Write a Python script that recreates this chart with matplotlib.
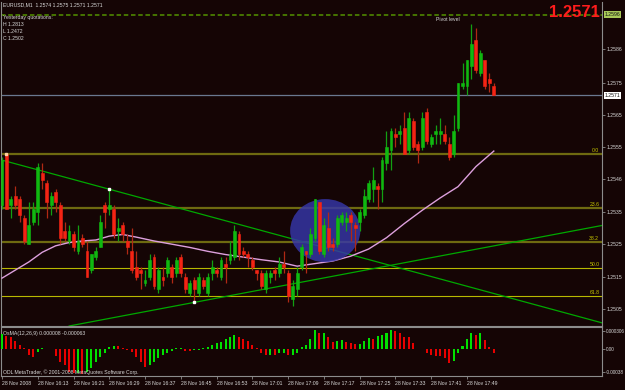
import matplotlib
matplotlib.use("Agg")
import matplotlib.pyplot as plt
from matplotlib.patches import Ellipse
import numpy as np

plt.rcParams['font.family'] = ['Liberation Sans', 'DejaVu Sans']

# EURUSD M1, bars from 28 Nov 16:05 to 17:55
opens = [1.2537, 1.2553, 1.2537, 1.2540, 1.2539, 1.2533, 1.2525, 1.2532, 1.2535, 1.2547,
         1.2544, 1.2537, 1.2541, 1.2537, 1.2529, 1.2526, 1.2528, 1.2523, 1.2527, 1.2523,
         1.2517, 1.2521, 1.2524, 1.2537, 1.2536, 1.2536, 1.2529, 1.2531, 1.2526, 1.2523,
         1.2518, 1.2517, 1.2513, 1.2515, 1.2521, 1.2511, 1.2515, 1.2516, 1.2518, 1.2516,
         1.2521, 1.2515, 1.2510, 1.2514, 1.2510, 1.2514, 1.2510, 1.2516, 1.2517, 1.2515,
         1.2519, 1.2520, 1.2521, 1.2528, 1.2523, 1.2522, 1.2520, 1.2517, 1.2516, 1.2511,
         1.2515, 1.2517, 1.2516, 1.2519, 1.2516, 1.2508, 1.2511, 1.2518, 1.2523, 1.2522,
         1.2527, 1.2538, 1.2522, 1.2530, 1.2525, 1.2525, 1.2532, 1.2532, 1.2534, 1.2531,
         1.2532, 1.2534, 1.2539, 1.2542, 1.2543, 1.2542, 1.2550, 1.2554, 1.2559, 1.2559,
         1.2561, 1.2554, 1.2563, 1.2556, 1.2555, 1.2566, 1.2556, 1.2559, 1.2559, 1.2559,
         1.2556, 1.2553, 1.2561, 1.2574, 1.2574, 1.2580, 1.2588, 1.2578, 1.2582, 1.2576,
         1.2574]
highs = [1.2552, 1.2553, 1.2540, 1.2543, 1.2540, 1.2534, 1.2538, 1.2538, 1.2550, 1.2550,
         1.2545, 1.2541, 1.2542, 1.2538, 1.2532, 1.2531, 1.2529, 1.2531, 1.2528, 1.2526,
         1.2522, 1.2524, 1.2534, 1.2538, 1.2542, 1.2537, 1.2533, 1.2532, 1.2528, 1.2530,
         1.2523, 1.2518, 1.2517, 1.2522, 1.2522, 1.2518, 1.2518, 1.2521, 1.2519, 1.2521,
         1.2522, 1.2516, 1.2514, 1.2515, 1.2516, 1.2515, 1.2516, 1.2520, 1.2518, 1.2521,
         1.2521, 1.2526, 1.2531, 1.2529, 1.2524, 1.2523, 1.2521, 1.2517, 1.2517, 1.2517,
         1.2517, 1.2518, 1.2521, 1.2523, 1.2517, 1.2514, 1.2518, 1.2525, 1.2523, 1.2530,
         1.2539, 1.2538, 1.2533, 1.2535, 1.2527, 1.2534, 1.2535, 1.2535, 1.2535, 1.2532,
         1.2536, 1.2542, 1.2545, 1.2549, 1.2544, 1.2552, 1.2560, 1.2561, 1.2561, 1.2562,
         1.2566, 1.2566, 1.2564, 1.2557, 1.2566, 1.2567, 1.2559, 1.2562, 1.2564, 1.2562,
         1.2558, 1.2565, 1.2575, 1.2581, 1.2582, 1.2593, 1.2592, 1.2585, 1.2582, 1.2578,
         1.2575]
lows = [1.2536, 1.2536, 1.2533, 1.2536, 1.2532, 1.2525, 1.2525, 1.2531, 1.2531, 1.2542,
        1.2533, 1.2534, 1.2535, 1.2525, 1.2526, 1.2525, 1.2523, 1.2522, 1.2524, 1.2515,
        1.2516, 1.2520, 1.2524, 1.2530, 1.2534, 1.2527, 1.2526, 1.2526, 1.2522, 1.2516,
        1.2514, 1.2511, 1.2512, 1.2514, 1.2511, 1.2510, 1.2512, 1.2515, 1.2513, 1.2515,
        1.2515, 1.2510, 1.2509, 1.2507, 1.2509, 1.2511, 1.2509, 1.2514, 1.2515, 1.2514,
        1.2513, 1.2519, 1.2520, 1.2520, 1.2521, 1.2518, 1.2517, 1.2514, 1.2511, 1.2510,
        1.2513, 1.2514, 1.2515, 1.2516, 1.2507, 1.2506, 1.2509, 1.2517, 1.2516, 1.2521,
        1.2526, 1.2522, 1.2521, 1.2523, 1.2523, 1.2524, 1.2531, 1.2529, 1.2526, 1.2523,
        1.2529, 1.2533, 1.2538, 1.2538, 1.2536, 1.2538, 1.2548, 1.2548, 1.2555, 1.2556,
        1.2553, 1.2553, 1.2554, 1.2550, 1.2554, 1.2556, 1.2555, 1.2556, 1.2556, 1.2556,
        1.2551, 1.2552, 1.2560, 1.2573, 1.2571, 1.2576, 1.2578, 1.2577, 1.2573, 1.2572,
        1.2571]
closes = [1.2551, 1.2536, 1.2539, 1.2537, 1.2534, 1.2526, 1.2531, 1.2536, 1.2549, 1.2545,
          1.2538, 1.2540, 1.2538, 1.2527, 1.2527, 1.2529, 1.2524, 1.2526, 1.2525, 1.2515,
          1.2522, 1.2523, 1.2532, 1.2535, 1.2537, 1.2528, 1.2530, 1.2528, 1.2524, 1.2517,
          1.2515, 1.2516, 1.2514, 1.2520, 1.2512, 1.2517, 1.2514, 1.2520, 1.2515, 1.2520,
          1.2516, 1.2511, 1.2513, 1.2511, 1.2515, 1.2512, 1.2515, 1.2518, 1.2516, 1.2520,
          1.2518, 1.2522, 1.2529, 1.2522, 1.2522, 1.2521, 1.2518, 1.2516, 1.2512, 1.2516,
          1.2516, 1.2516, 1.2519, 1.2518, 1.2509, 1.2512, 1.2516, 1.2524, 1.2522, 1.2528,
          1.2539, 1.2523, 1.2531, 1.2524, 1.2524, 1.2533, 1.2534, 1.2533, 1.2532, 1.2530,
          1.2535, 1.2540, 1.2544, 1.2545, 1.2542, 1.2551, 1.2555, 1.2560, 1.2558, 1.2560,
          1.2553, 1.2564, 1.2555, 1.2554, 1.2564, 1.2557, 1.2558, 1.2560, 1.2560, 1.2557,
          1.2552, 1.2560, 1.2575, 1.2575, 1.2582, 1.2587, 1.2579, 1.2584, 1.2574, 1.2575,
          1.2571]

# moving average, read at every few bars
ma_idx = [0, 3, 6, 9, 12, 15, 18, 21, 24, 27, 30, 34, 38, 42, 46, 50, 54, 58, 62, 66,
          70, 74, 78, 82, 86, 90, 94, 98, 102, 106, 110]
ma_val = [1.25145, 1.2517, 1.25195, 1.25225, 1.25245, 1.25255, 1.2526, 1.25263, 1.25275, 1.2528,
          1.25272, 1.2526, 1.2525, 1.2524, 1.25228, 1.25218, 1.2521, 1.25202, 1.25195, 1.25182,
          1.2519, 1.25198, 1.25213, 1.25235, 1.2527, 1.25314, 1.25355, 1.25393, 1.25428, 1.2549,
          1.25538]

# OsMA(12,26,9) histogram
osma = [0.000256, 0.000223, 0.000212, 0.000145, 0.000072, 0.000017, -0.000095, -0.000134, -0.000039, 0.000017,
        0.000006, 0.000003, -0.000111, -0.000206, -0.000262, -0.000373, -0.000401, -0.000390, -0.000412, -0.000379,
        -0.000317, -0.000206, -0.000134, -0.000067, 0.000045, 0.000056, 0.000050, 0.000017, -0.000006, -0.000045,
        -0.000123, -0.000206, -0.000290, -0.000262, -0.000206, -0.000150, -0.000095, -0.000056, -0.000022, 0.000017,
        0.000020, -0.000022, -0.000025, -0.000011, -0.000008, 0.000017, 0.000039, 0.000072, 0.000100, 0.000128,
        0.000167, 0.000212, 0.000240, 0.000212, 0.000178, 0.000134, 0.000072, 0.000017, -0.000067, -0.000095,
        -0.000094, -0.000096, -0.000067, -0.000056, -0.000095, -0.000090, -0.000067, 0.000033, 0.000072, 0.000167,
        0.000323, 0.000267, 0.000270, 0.000212, 0.000128, 0.000145, 0.000156, 0.000128, 0.000100, 0.000089,
        0.000095, 0.000145, 0.000184, 0.000178, 0.000223, 0.000240, 0.000279, 0.000323, 0.000312, 0.000279,
        0.000212, 0.000200, 0.000100, 0.000006, 0.000011, -0.000056, -0.000095, -0.000111, -0.000117, -0.000150,
        -0.000223, -0.000189, -0.000067, 0.000056, 0.000167, 0.000279, 0.000240, 0.000279, 0.000156, 0.000045,
        -0.000063]

fib_levels = [1.2553, 1.25363, 1.25258, 1.25175, 1.25091]
fib_names = ["0.0", "23.6", "38.2", "50.0", "61.8"]
pivot = 1.2596
bid = 1.2571
trend_a = [(0, 1.2551), (24, 1.2542)]
trend_b = [(43, 1.2507), (89, 1.2519)]

price_ticks = [1.25854, 1.2575, 1.25649, 1.2555, 1.25452, 1.2535, 1.2525, 1.2515, 1.2505]
price_labels = ["1.2586", "1.2575", "1.2565", "1.2555", "1.2546", "1.2535", "1.2525", "1.2515", "1.2505"]
osma_ticks = [0.000306, 0.0, -0.00038]
osma_labels = ["0.000306", "0.00", "-0.00038"]
time_ticks = [0, 8, 16, 24, 32, 40, 48, 56, 64, 72, 80, 88, 96, 104]
time_labels = ["28 Nov 2008", "28 Nov 16:13", "28 Nov 16:21", "28 Nov 16:29", "28 Nov 16:37",
               "28 Nov 16:45", "28 Nov 16:53", "28 Nov 17:01", "28 Nov 17:09", "28 Nov 17:17",
               "28 Nov 17:25", "28 Nov 17:33", "28 Nov 17:41", "28 Nov 17:49"]

bg = '#150505'
fg = '#d8d8d8'
frame = '#8c8c8c'
fs = 3.7
W, H = 625, 390


def px(x, y):
    return x / W, 1 - y / H


fig = plt.figure(figsize=(W / 100, H / 100), dpi=100)
fig.patch.set_facecolor(bg)

ax = fig.add_axes([1 / W, 1 - 326 / H, 601 / W, 324 / H])
ax2 = fig.add_axes([1 / W, 1 - 376 / H, 601 / W, 49 / H])
for a in (ax, ax2):
    a.set_facecolor(bg)
    for s in a.spines.values():
        s.set_color(frame)
        s.set_linewidth(0.8)
    a.set_xlim(-0.22, 134.2)
    a.yaxis.tick_right()
    a.tick_params(axis='y', colors=frame, labelcolor=fg, labelsize=fs, length=2, pad=1, width=0.6)
ax.spines['top'].set_visible(False)

idx = np.arange(len(opens))
o = np.array(opens)
c = np.array(closes)
up = c >= o

# candles
ax.vlines(idx, lows, highs, colors=np.where(up, '#12a012', '#b02814'), lw=0.9, zorder=4)
ax.bar(idx, np.abs(c - o), bottom=np.minimum(o, c), width=0.64,
       color=np.where(up, '#10b810', '#f42414'), edgecolor=np.where(up, '#10b810', '#f42414'),
       lw=0.4, zorder=5)

ax.plot(ma_idx, ma_val, color='#dda0dd', lw=1, zorder=3)

for lvl, name in zip(fib_levels, fib_names):
    strong = name in ("50.0", "61.8")
    ax.axhline(lvl, color='#b8b800' if strong else '#6e6a10', lw=0.8 if strong else 1.6, zorder=2)
    ax.text(133.6, lvl + 0.00003, name, color='#c8c800', fontsize=fs, ha='right', va='bottom', zorder=6)

ax.axhline(pivot, color='#4a7d00', lw=1.3, ls=(0, (2.5, 1.5)), zorder=2)
ax.text(97, pivot - 0.00007, "Pivot level", color=fg, fontsize=fs, va='top', ha='left')
ax.axhline(bid, color='#6a7890', lw=0.9, zorder=2)

ax.axline(trend_a[0], trend_a[1], color='#00a800', lw=0.9, zorder=2)
ax.axline(trend_b[0], trend_b[1], color='#00a800', lw=0.9, zorder=2)
ax.plot([trend_a[1][0], trend_b[0][0]], [trend_a[1][1], trend_b[0][1]], ls='none',
        marker='s', ms=2, color='white', zorder=6)
ax.plot([1], [highs[1]], ls='none', marker='s', ms=2, color='#ffd0a0', zorder=6)

ax.add_patch(Ellipse((72.3, 1.25292), 15.7, 0.00195, facecolor='#3636aa', edgecolor='none',
                     alpha=0.82, zorder=3.5))

ax.set_ylim(1.24997, 1.25999)
ax.set_yticks(price_ticks, price_labels)
ax.set_xticks([])

ax.text(1.004, pivot, "1.2596", transform=ax.get_yaxis_transform(), fontsize=fs, color='#101010',
        va='center', ha='left', bbox=dict(fc='#a8c858', ec='none', pad=0.5))
ax.text(1.004, bid, "1.2571", transform=ax.get_yaxis_transform(), fontsize=fs, color='#101010',
        va='center', ha='left', bbox=dict(fc='white', ec='none', pad=0.5))

# OsMA panel
osma_arr = np.array(osma)
rising = np.concatenate([[True], np.diff(osma_arr) >= 0])
ax2.bar(idx, osma_arr, width=0.45, color=np.where(rising, '#00e000', '#e80000'), zorder=3)
ax2.set_ylim(-0.000446, 0.000373)
ax2.set_yticks(osma_ticks, osma_labels)
ax2.tick_params(axis='y', labelsize=3.3, pad=0.6)
ax2.set_xticks(time_ticks, time_labels)
ax2.tick_params(axis='x', colors=frame, labelcolor=fg, labelsize=fs, length=2, pad=1.5, width=0.6)
for lab in ax2.get_xticklabels():
    lab.set_ha('left')

# text overlays
fig.text(*px(3, 5), "EURUSD,M1  1.2574 1.2575 1.2571 1.2571", color=fg, fontsize=fs, va='center')
fig.text(*px(3, 17.3), "Yesterday quotations:", color=fg, fontsize=fs, va='center')
fig.text(*px(3, 24.5), "H 1.2813", color=fg, fontsize=fs, va='center')
fig.text(*px(3, 31.6), "L 1.2472", color=fg, fontsize=fs, va='center')
fig.text(*px(3, 38.7), "C 1.2502", color=fg, fontsize=fs, va='center')
fig.text(*px(600, 12.5), "1.2571", color='#ff1c1c', fontsize=12, fontweight='bold', ha='right', va='center')
fig.text(*px(3, 333), "OsMA(12,26,9) 0.000008 -0.000063", color=fg, fontsize=fs, va='center')
fig.text(*px(3, 372), "ODL MetaTrader, \u00a9 2001-2008 MetaQuotes Software Corp.", color=fg, fontsize=fs, va='center')

fig.savefig("out.png", dpi=100, facecolor=bg)
